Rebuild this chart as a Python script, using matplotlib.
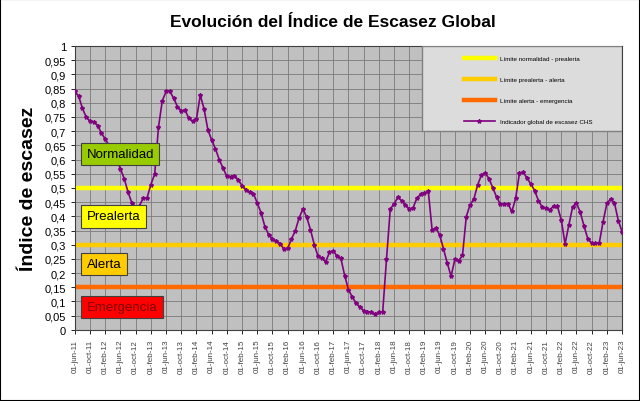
import numpy as np
import matplotlib
matplotlib.use('Agg')
import matplotlib.pyplot as plt
from matplotlib.patches import Rectangle

plt.rcParams['font.family'] = ['Liberation Sans', 'DejaVu Sans']

# indicador global de escasez, mensual desde jun-2011 hasta jun-2023
indice = [
    0.840, 0.823, 0.780, 0.749, 0.735, 0.733, 0.720, 0.693, 0.672, 0.650,
    0.625, 0.600, 0.567, 0.532, 0.485, 0.447, 0.434, 0.437, 0.465, 0.465,
    0.512, 0.549, 0.714, 0.807, 0.840, 0.840, 0.816, 0.786, 0.772, 0.774,
    0.745, 0.735, 0.743, 0.827, 0.778, 0.705, 0.669, 0.637, 0.600, 0.569,
    0.541, 0.540, 0.543, 0.528, 0.508, 0.494, 0.485, 0.479, 0.447, 0.412,
    0.364, 0.335, 0.320, 0.313, 0.304, 0.285, 0.288, 0.320, 0.349, 0.394,
    0.426, 0.397, 0.353, 0.300, 0.259, 0.252, 0.240, 0.273, 0.279, 0.259,
    0.252, 0.191, 0.142, 0.115, 0.095, 0.080, 0.068, 0.064, 0.062, 0.056,
    0.062, 0.062, 0.248, 0.426, 0.444, 0.467, 0.455, 0.440, 0.426, 0.430,
    0.464, 0.478, 0.482, 0.489, 0.353, 0.358, 0.335, 0.285, 0.235, 0.189,
    0.248, 0.244, 0.262, 0.399, 0.441, 0.461, 0.511, 0.546, 0.553, 0.532,
    0.499, 0.467, 0.442, 0.443, 0.443, 0.417, 0.464, 0.553, 0.555, 0.534,
    0.514, 0.490, 0.455, 0.432, 0.428, 0.424, 0.436, 0.435, 0.387, 0.303,
    0.370, 0.434, 0.447, 0.414, 0.365, 0.320, 0.306, 0.306, 0.306, 0.381,
    0.446, 0.461, 0.447, 0.385, 0.346,
]

limites = [0.5, 0.3, 0.15]
colores_lim = ['#FFFF00', '#FFCC00', '#FF6A00']
nombres_lim = ['Límite normalidad - prealerta', 'Límite prealerta - alerta',
               'Límite alerta - emergencia']

meses = ['ene', 'feb', 'mar', 'abr', 'may', 'jun', 'jul', 'ago', 'sep', 'oct', 'nov', 'dic']

x = np.arange(len(indice))
etiquetas = []
for i in x[::4]:
    m = 5 + i  # jun-2011 = mes 5
    etiquetas.append('01-%s-%02d' % (meses[m % 12], 11 + m // 12))

fig = plt.figure(figsize=(6.4, 4.02), dpi=100)
fig.patches.append(Rectangle((0, 0), 1, 1, transform=fig.transFigure,
                             fill=False, edgecolor='black', lw=1.5))
ax = fig.add_axes([0.117, 0.177, 0.855, 0.706])
ax.set_facecolor('#C0C0C0')

for v, c, n in zip(limites, colores_lim, nombres_lim):
    ax.plot([0, len(indice) - 1], [v, v], color=c, lw=3.2, label=n, zorder=2)
ax.plot(x, indice, color='#800080', lw=1.2, marker='*', ms=3,
        label='Indicador global de escasez CHS', zorder=3)

ax.set_xlim(0, len(indice) - 1)
ax.set_ylim(0, 1)
ax.set_yticks(np.arange(0, 1.0001, 0.05))
ax.set_yticklabels([('%g' % round(t, 2)).replace('.', ',') for t in np.arange(0, 1.0001, 0.05)],
                   fontsize=8)
ax.set_xticks(x[::4])
ax.set_xticklabels(etiquetas, rotation=90, fontsize=5.8, color='#404040')
ax.tick_params(length=3, width=0.6)
ax.grid(True, color='#7A7A7A', lw=0.6)
ax.set_axisbelow(True)
for s in ax.spines.values():
    s.set_color('#404040')

ax.set_ylabel('Índice de escasez', fontsize=14, fontweight='bold', labelpad=5)
fig.text(0.52, 0.945, 'Evolución del Índice de Escasez Global', ha='center', va='center',
         fontsize=12.5, fontweight='bold')

# cajas de estado
cajas = [('Normalidad', 0.62, '#99CC00', 'black'),
         ('Prealerta', 0.40, '#FFFF00', 'black'),
         ('Alerta', 0.232, '#FFCC00', 'black'),
         ('Emergencia', 0.081, '#FF0000', '#800000')]
for t, yv, fc, tc in cajas:
    ax.text(3.1, yv, t, ha='left', va='center', fontsize=9.5, color=tc, zorder=5,
            bbox=dict(boxstyle='square,pad=0.4', fc=fc, ec='#404040', lw=0.8))

# leyenda
ax.add_patch(Rectangle((0.634, 0.70), 0.366, 0.30, transform=ax.transAxes,
                       fc='#DCDCDC', ec='#808080', lw=1, zorder=6))
leg = ax.legend(loc='upper left', bbox_to_anchor=(0.70, 0.985), frameon=False,
                fontsize=4.5, labelspacing=2.5, handlelength=5, handletextpad=0.8)
leg.set_zorder(7)

fig.savefig('out.png', dpi=100)
